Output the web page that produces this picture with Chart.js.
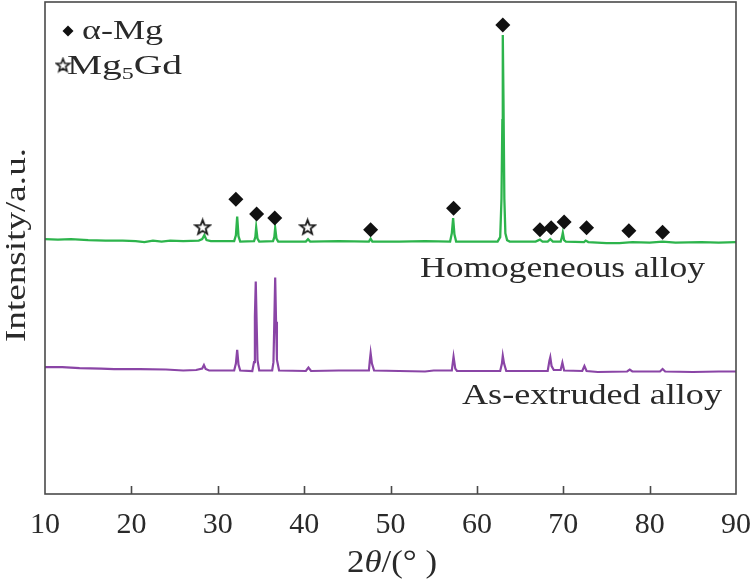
<!DOCTYPE html>
<html><head><meta charset="utf-8">
<script src="https://cdn.jsdelivr.net/npm/chart.js@4.4.1/dist/chart.umd.min.js"></script>
<style>html,body{margin:0;padding:0;background:#fff}#wrap{width:753px;height:579px;position:relative}</style>
</head><body><div id="wrap"><canvas id="c"></canvas></div>
<script>
// ---- data ----
const xTicks = [10, 20, 30, 40, 50, 60, 70, 80, 90];

const homX = [10,11.5,13,15,17,19,20.5,21.5,22.5,23.5,24.5,26,27.8,28.2,28.45,28.7,29.2,31.9,32.1,32.25,32.4,32.6,34.2,34.35,34.45,34.6,34.8,36.4,36.55,36.65,36.8,37.0,40.2,40.45,40.7,44,47.5,47.7,47.9,51,54,56.9,57.1,57.25,57.4,57.6,60,62.4,62.7,62.85,62.95,63.0,63.08,63.18,63.3,63.5,63.8,66.8,67.3,67.6,68.2,68.5,68.8,69.7,69.85,69.95,70.1,70.3,72.4,72.6,72.9,75,76.5,78,80,81.5,83,86,88,90];
const homY = [51.8,51.7,51.8,51.6,51.5,51.5,51.4,51.2,51.5,51.3,51.5,51.4,51.5,51.8,52.6,51.6,51.4,51.4,52.6,56.4,52.4,51.3,51.4,52.2,54.2,51.9,51.3,51.4,52.2,54.1,51.9,51.3,51.3,51.8,51.3,51.4,51.3,51.9,51.3,51.3,51.4,51.3,53.0,56.1,52.8,51.3,51.3,51.3,52.2,60,76,93.3,80,60,53,51.6,51.3,51.3,51.7,51.3,51.3,51.8,51.3,51.3,52.2,53.1,51.6,51.3,51.2,51.5,51.2,51.0,51.0,51.2,51.1,51.3,51.1,51.2,51.1,51.2];

const extX = [10,12,14,16.5,18,21,24,26,27.5,28.2,28.4,28.6,29,31.9,32.1,32.25,32.4,32.6,34.0,34.2,34.3,34.4,34.5,34.6,34.8,36.3,36.45,36.55,36.65,36.75,36.85,37.1,40.2,40.5,40.8,44,47.5,47.6,47.7,47.85,48.1,51,54,55,57.1,57.3,57.5,57.7,62.7,62.9,63.0,63.15,63.4,66,68.2,68.4,68.5,68.65,68.9,69.7,69.9,70.1,72.2,72.45,72.7,74,77.4,77.7,78,81.2,81.5,81.8,85,88,90];
const extY = [25.8,25.8,25.6,25.5,25.4,25.4,25.3,25.1,25.2,25.5,26.2,25.4,25.1,25.1,26.5,29.3,26.3,25.1,25.0,26.8,36,43.2,35,27.2,25.1,25.1,26.8,35,44.0,35,27.3,25.1,25.0,25.7,25.0,25.1,25.1,27,28.6,26.5,25.1,25.0,24.9,25.1,25.1,27.9,25.5,25.0,25.0,26.5,28.1,26.5,25.0,25.0,25.0,27.1,27.8,26,25.2,25.2,26.7,25.1,25.0,26.0,25.0,24.8,24.9,25.3,24.9,24.9,25.4,24.9,24.8,24.9,24.9];

const diamondX = [32.1, 34.5, 36.6, 47.7, 57.3, 63.0, 67.3, 68.6, 70.1, 72.7, 77.6, 81.5];
const diamondY = [59.9, 56.9, 56.1, 53.7, 58.1, 95.3, 53.7, 54.1, 55.3, 54.1, 53.5, 53.2];
const starX = [28.25, 40.4];
const starY = [54.3, 54.3];

const seriesNames = ['Homogeneous alloy', 'As-extruded alloy'];
const phaseNames = ['α-Mg', 'Mg', '5', 'Gd'];
const yTitle = 'Intensity/a.u.';

// ---- styling ----
const SERIF = '"Liberation Serif", "DejaVu Serif", "Times New Roman", serif';
const TXT = '#2a2a2a';
const GREEN = '#2db44c';
const PURPLE = '#8a45a6';

function zip(xs, ys) { return xs.map((x, i) => ({ x: x, y: ys[i] })); }

function makeStar(size, lw) {
  const c = document.createElement('canvas');
  c.width = size; c.height = size;
  const g = c.getContext('2d');
  const cx = size / 2, cy = size / 2 + size * 0.04;
  const R = size / 2 - lw, r = R * 0.42;
  g.beginPath();
  for (let i = 0; i < 10; i++) {
    const a = -Math.PI / 2 + i * Math.PI / 5;
    const rr = i % 2 === 0 ? R : r;
    const px = cx + rr * Math.cos(a), py = cy + rr * Math.sin(a);
    if (i === 0) g.moveTo(px, py); else g.lineTo(px, py);
  }
  g.closePath();
  g.fillStyle = '#fff';
  g.fill();
  g.lineWidth = lw;
  g.lineJoin = 'miter';
  g.strokeStyle = '#1a1a1a';
  g.stroke();
  return c;
}
const starImg = makeStar(19, 1.8);
const starSmall = makeStar(17, 1.6);

function fitText(ctx, txt, x, y, font, width, align) {
  ctx.save();
  ctx.font = font;
  const w = ctx.measureText(txt).width;
  const s = width / w;
  ctx.translate(x, y);
  ctx.scale(s, 1);
  ctx.textAlign = 'left';
  ctx.textBaseline = 'alphabetic';
  let ox = 0;
  if (align === 'center') ox = -w / 2;
  else if (align === 'right') ox = -w;
  ctx.fillText(txt, ox, 0);
  ctx.restore();
}

const decor = {
  id: 'decor',
  afterDraw(chart) {
    const ctx = chart.ctx;
    const a = chart.chartArea;
    const xs = chart.scales.x;
    ctx.save();
    // frame
    ctx.strokeStyle = '#4a4a4a';
    ctx.lineWidth = 1.6;
    ctx.strokeRect(a.left, a.top, a.right - a.left, a.bottom - a.top);
    // inward ticks + tick labels from the x scale
    ctx.beginPath();
    xs.ticks.forEach(t => {
      const v = t.value;
      if (v === xs.min || v === xs.max) return;
      const px = Math.round(xs.getPixelForValue(v)) + 0.5;
      ctx.moveTo(px, a.bottom);
      ctx.lineTo(px, a.bottom - 8);
    });
    ctx.stroke();
    ctx.fillStyle = TXT;
    ctx.font = '30px ' + SERIF;
    ctx.textAlign = 'center';
    ctx.textBaseline = 'alphabetic';
    xs.ticks.forEach(t => {
      ctx.fillText(String(t.value), xs.getPixelForValue(t.value), a.bottom + 39);
    });

    // series labels
    fitText(ctx, seriesNames[0], 420, 277, '30px ' + SERIF, 285, 'left');
    fitText(ctx, seriesNames[1], 462, 404, '30px ' + SERIF, 260, 'left');

    // legend
    ctx.fillStyle = '#111';
    ctx.beginPath();
    const dx = 68, dy = 31, dr = 5.5;
    ctx.moveTo(dx - dr, dy); ctx.lineTo(dx, dy - dr); ctx.lineTo(dx + dr, dy); ctx.lineTo(dx, dy + dr);
    ctx.closePath(); ctx.fill();
    ctx.drawImage(starSmall, 63 - starSmall.width / 2, 65 - starSmall.height / 2);
    ctx.fillStyle = TXT;
    fitText(ctx, phaseNames[0], 82, 39, '27px ' + SERIF, 81, 'left');
    // Mg5Gd with subscript
    ctx.save();
    const f1 = '28px ' + SERIF, f2 = '17px ' + SERIF;
    ctx.font = f1; const w1 = ctx.measureText(phaseNames[1]).width; const w3 = ctx.measureText(phaseNames[3]).width;
    ctx.font = f2; const w2 = ctx.measureText(phaseNames[2]).width;
    const tot = w1 + w2 + w3;
    const s = 115 / tot;
    ctx.translate(67, 74);
    ctx.scale(s, 1);
    ctx.textAlign = 'left';
    ctx.textBaseline = 'alphabetic';
    ctx.font = f1; ctx.fillText(phaseNames[1], 0, 0);
    ctx.font = f2; ctx.fillText(phaseNames[2], w1, 5);
    ctx.font = f1; ctx.fillText(phaseNames[3], w1 + w2, 0);
    ctx.restore();

    // y title
    ctx.save();
    ctx.translate(25, 245);
    ctx.rotate(-Math.PI / 2);
    fitText(ctx, yTitle, 0, 0, '29px ' + SERIF, 194, 'center');
    ctx.restore();

    // x title 2θ/(° )
    ctx.save();
    const parts = [['2', '31px ' + SERIF], ['θ', 'italic 31px ' + SERIF], ['/(', '31px ' + SERIF], ['°', '31px ' + SERIF], [' )', '31px ' + SERIF]];
    let tw = 0; const ws = [];
    parts.forEach(p => { ctx.font = p[1]; const w = ctx.measureText(p[0]).width; ws.push(w); tw += w; });
    const sc = 90 / tw;
    ctx.translate(347, 572);
    ctx.scale(sc, 1);
    ctx.textAlign = 'left';
    let ox = 0;
    parts.forEach((p, i) => { ctx.font = p[1]; ctx.fillText(p[0], ox, 0); ox += ws[i]; });
    ctx.restore();

    ctx.restore();
  }
};

new Chart(document.getElementById('c'), {
  type: 'scatter',
  data: {
    datasets: [
      { label: 'diamonds', data: zip(diamondX, diamondY), showLine: false, pointStyle: 'rectRot', pointRadius: 7.5, backgroundColor: '#111', borderWidth: 0, order: 0 },
      { label: 'stars', data: zip(starX, starY), showLine: false, pointStyle: starImg, pointRadius: 9, order: 0 },
      { label: seriesNames[0], data: zip(homX, homY), showLine: true, borderColor: GREEN, borderWidth: 2.3, pointRadius: 0, tension: 0, order: 2 },
      { label: seriesNames[1], data: zip(extX, extY), showLine: true, borderColor: PURPLE, borderWidth: 2.2, pointRadius: 0, tension: 0, order: 2 }
    ]
  },
  options: {
    responsive: true,
    maintainAspectRatio: false,
    animation: false,
    layout: { autoPadding: false, padding: { left: 45, right: 17, top: 2, bottom: 0 } },
    plugins: { legend: { display: false }, tooltip: { enabled: false } },
    scales: {
      x: {
        type: 'linear', min: 10, max: 90,
        afterBuildTicks(s) { s.ticks = xTicks.map(v => ({ value: v })); },
        afterFit(s) { s.height = 85; },
        grid: { display: false, drawTicks: false },
        border: { display: false },
        ticks: { display: false }
      },
      y: { type: 'linear', min: 0, max: 100, display: false }
    }
  },
  plugins: [decor]
});
</script>
</body></html>
